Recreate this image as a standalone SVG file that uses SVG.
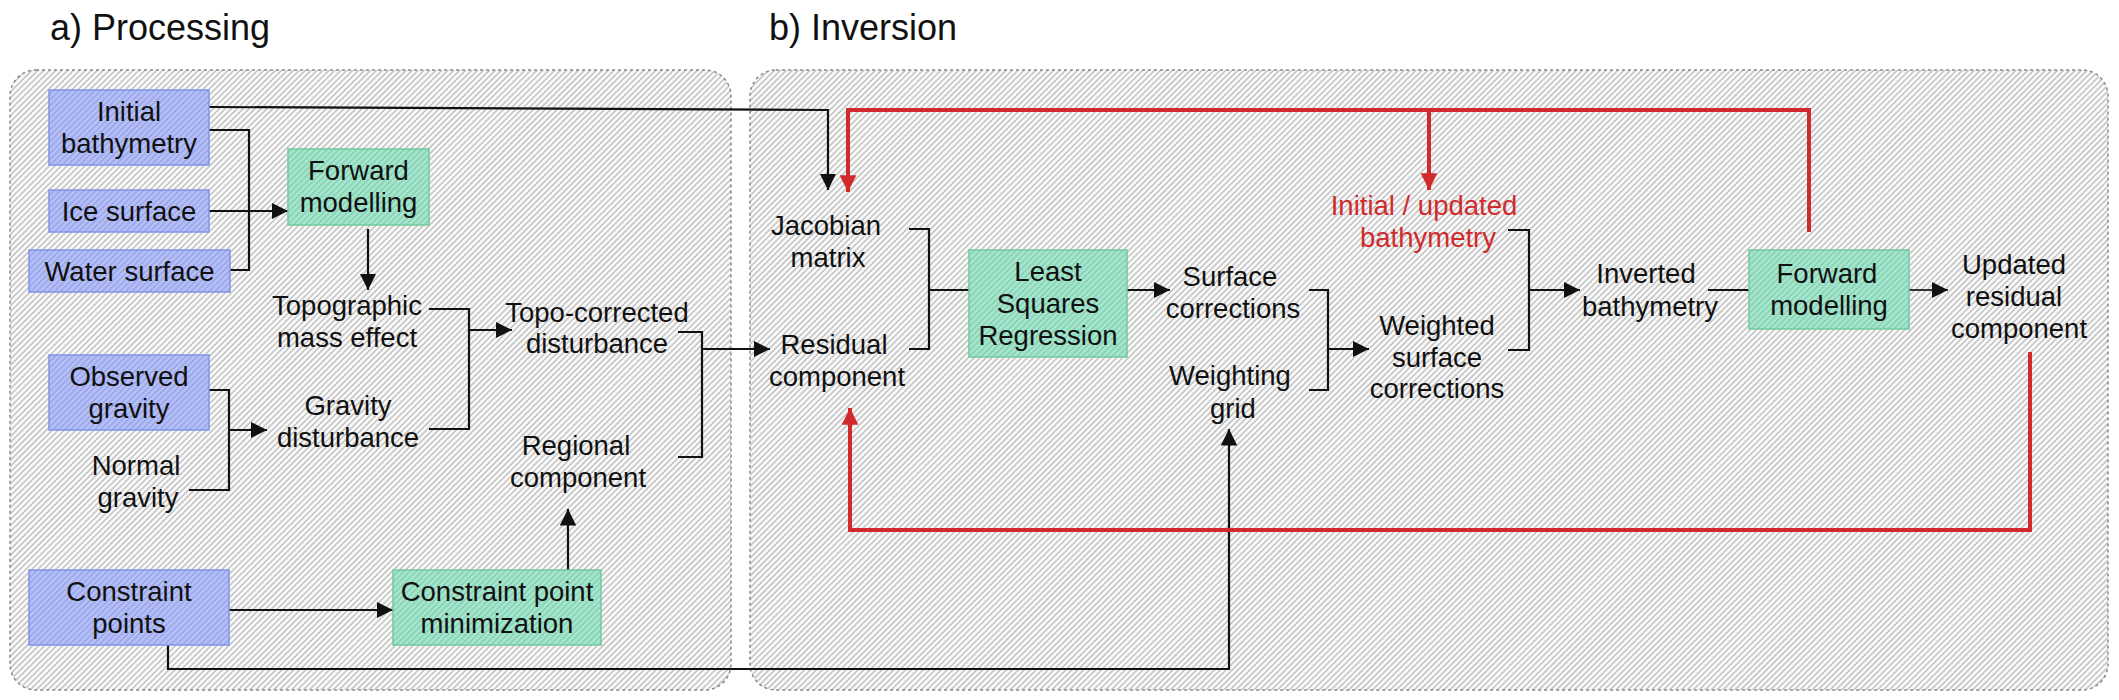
<svg xmlns="http://www.w3.org/2000/svg" width="2119" height="700" viewBox="0 0 2119 700">
<style>
text{font-family:"Liberation Sans",Arial,sans-serif;font-size:27.5px;fill:#111;text-anchor:middle}
.title{font-size:36px;text-anchor:start}
.red{fill:#d12a2c}
.panel{fill:url(#hatchPanel);stroke:#8a8a8a;stroke-width:1.5;stroke-dasharray:3 3}
.blue{fill:url(#hatchBlue);stroke:#8294e6;stroke-width:1.5}
.green{fill:url(#hatchGreen);stroke:#74c79f;stroke-width:1.5}
.ln{fill:none;stroke:#111;stroke-width:2.2}
.rl{fill:none;stroke:#d12a2c;stroke-width:4}
</style>
<defs>
<pattern id="hatchPanel" width="4.2" height="4.2" patternUnits="userSpaceOnUse" patternTransform="rotate(45)">
<rect width="4.2" height="4.2" fill="#fafafa"/><line x1="1" y1="0" x2="1" y2="4.2" stroke="#bcbcbc" stroke-width="1.4"/>
</pattern>
<pattern id="hatchBlue" width="4.2" height="4.2" patternUnits="userSpaceOnUse" patternTransform="rotate(45)">
<rect width="4.2" height="4.2" fill="#b6c0f6"/><line x1="1" y1="0" x2="1" y2="4.2" stroke="#97a4ea" stroke-width="1.5"/>
</pattern>
<pattern id="hatchGreen" width="4.2" height="4.2" patternUnits="userSpaceOnUse" patternTransform="rotate(45)">
<rect width="4.2" height="4.2" fill="#a6e6cf"/><line x1="1" y1="0" x2="1" y2="4.2" stroke="#84d0b2" stroke-width="1.5"/>
</pattern>
<marker id="ah" viewBox="0 0 10 10" refX="10" refY="5" markerWidth="7.5" markerHeight="7.5" markerUnits="strokeWidth" orient="auto">
<path d="M0,0 L10,5 L0,10 Z" fill="#111"/>
</marker>
<marker id="ahr" viewBox="0 0 10 10" refX="10" refY="5" markerWidth="4.2" markerHeight="4.2" markerUnits="strokeWidth" orient="auto">
<path d="M0,0 L10,5 L0,10 Z" fill="#d12a2c"/>
</marker>
</defs>
<rect width="2119" height="700" fill="#ffffff"/>

<g id="panels">
<rect class="panel" x="10" y="70" width="721" height="620" rx="26" ry="26"/>
<rect class="panel" x="750" y="70" width="1358" height="620" rx="26" ry="26"/>
<text class="title" x="50" y="40">a) Processing</text>
<text class="title" x="769" y="40">b) Inversion</text>
</g>

<g id="connectors">
<path class="ln" d="M209,107 L828,110 L828,190" marker-end="url(#ah)"/>
<path class="ln" d="M209,130 H249 V270 H230"/>
<path class="ln" d="M209,211 H288" marker-end="url(#ah)"/>
<path class="ln" d="M368,229 V290" marker-end="url(#ah)"/>
<path class="ln" d="M429,309 H469 V429 H429"/>
<path class="ln" d="M469,330 H512" marker-end="url(#ah)"/>
<path class="ln" d="M209,390 H229 V490 H189"/>
<path class="ln" d="M229,430 H267" marker-end="url(#ah)"/>
<path class="ln" d="M678,332 H702 V457 H678"/>
<path class="ln" d="M702,349 H770" marker-end="url(#ah)"/>
<path class="ln" d="M229,610 H393" marker-end="url(#ah)"/>
<path class="ln" d="M568,570 V509" marker-end="url(#ah)"/>
<path class="ln" d="M168,645 V669 H1229 V429" marker-end="url(#ah)"/>
<path class="ln" d="M909,229 H929 V349 H909"/>
<path class="ln" d="M929,290 H969"/>
<path class="ln" d="M1127,290 H1170" marker-end="url(#ah)"/>
<path class="ln" d="M1309,290 H1328 V390 H1309"/>
<path class="ln" d="M1328,349 H1369" marker-end="url(#ah)"/>
<path class="ln" d="M1508,230 H1529 V350 H1508"/>
<path class="ln" d="M1529,290 H1580" marker-end="url(#ah)"/>
<path class="ln" d="M1708,290 H1749"/>
<path class="ln" d="M1909,290 H1948" style="stroke:#333" marker-end="url(#ah)"/>
<path class="rl" d="M1809,232 V110 H848 V192" marker-end="url(#ahr)"/>
<path class="rl" d="M1429,110 V190" marker-end="url(#ahr)"/>
<path class="rl" d="M2030,352 V530 H850 V408" marker-end="url(#ahr)"/>
</g>

<g id="n-initial-bathymetry"><rect class="blue" x="49" y="90" width="160" height="75"/><text x="129" y="121">Initial</text><text x="129" y="153">bathymetry</text></g>
<g id="n-ice-surface"><rect class="blue" x="49" y="190" width="160" height="42"/><text x="129" y="221">Ice surface</text></g>
<g id="n-water-surface"><rect class="blue" x="29" y="250" width="201" height="42"/><text x="129.5" y="281">Water surface</text></g>
<g id="n-forward-a"><rect class="green" x="288" y="149" width="141" height="76"/><text x="358.5" y="180">Forward</text><text x="358.5" y="212">modelling</text></g>
<g id="n-topo-mass"><text x="347" y="315">Topographic</text><text x="347" y="347">mass effect</text></g>
<g id="n-topo-corrected"><text x="597" y="322">Topo-corrected</text><text x="597" y="353">disturbance</text></g>
<g id="n-observed"><rect class="blue" x="49" y="355" width="160" height="75"/><text x="129" y="386">Observed</text><text x="129" y="418">gravity</text></g>
<g id="n-gravity-dist"><text x="348" y="415">Gravity</text><text x="348" y="447">disturbance</text></g>
<g id="n-normal"><text x="136" y="475">Normal</text><text x="138" y="507">gravity</text></g>
<g id="n-regional"><text x="576" y="455">Regional</text><text x="578" y="487">component</text></g>
<g id="n-constraint"><rect class="blue" x="29" y="570" width="200" height="75"/><text x="129" y="601">Constraint</text><text x="129" y="633">points</text></g>
<g id="n-cpm"><rect class="green" x="393" y="570" width="208" height="75"/><text x="497" y="601">Constraint point</text><text x="497" y="633">minimization</text></g>

<g id="n-jacobian"><text x="826" y="235">Jacobian</text><text x="828" y="267">matrix</text></g>
<g id="n-residual"><text x="834" y="354">Residual</text><text x="837" y="386">component</text></g>
<g id="n-lsr"><rect class="green" x="969" y="250" width="158" height="107"/><text x="1048" y="281">Least</text><text x="1048" y="313">Squares</text><text x="1048" y="345">Regression</text></g>
<g id="n-surface-corr"><text x="1230" y="286">Surface</text><text x="1233" y="318">corrections</text></g>
<g id="n-weighting"><text x="1230" y="385">Weighting</text><text x="1233" y="418">grid</text></g>
<g id="n-init-updated"><text class="red" x="1424" y="215">Initial / updated</text><text class="red" x="1428" y="247">bathymetry</text></g>
<g id="n-weighted"><text x="1437" y="335">Weighted</text><text x="1437" y="367">surface</text><text x="1437" y="398">corrections</text></g>
<g id="n-inverted"><text x="1646" y="283">Inverted</text><text x="1650" y="316">bathymetry</text></g>
<g id="n-forward-b"><rect class="green" x="1749" y="250" width="160" height="79"/><text x="1827" y="283">Forward</text><text x="1829" y="315">modelling</text></g>
<g id="n-updated"><text x="2014" y="274">Updated</text><text x="2014" y="306">residual</text><text x="2019" y="338">component</text></g>
</svg>
